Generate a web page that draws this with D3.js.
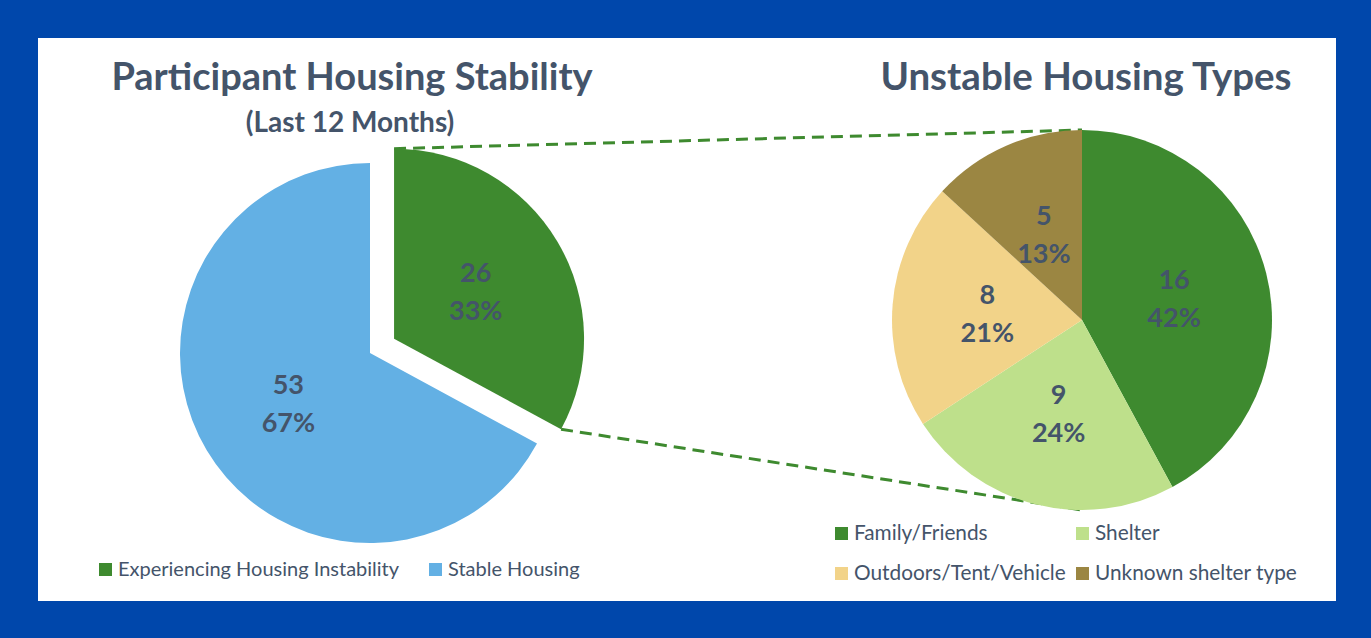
<!DOCTYPE html>
<html>
<head>
<meta charset="utf-8">
<script src="https://cdn.jsdelivr.net/npm/d3@7"></script>
<style>
  body { margin: 0; background: #0047AB; }
  svg { display: block; }
  text { font-family: Lato, "Open Sans", sans-serif; fill: #44546A; }
</style>
</head>
<body>
<svg id="chart" width="1371" height="638"></svg>
<script>
// left pie: housing stability (last 12 months)
var stabilityLabels = ["Experiencing Housing Instability", "Stable Housing"];
var stabilityValues = [26, 53];
var stabilityColors = ["#3E8A2F", "#63B0E4"];

// right pie: breakdown of the unstable slice
var typeLabels = ["Family/Friends", "Shelter", "Outdoors/Tent/Vehicle", "Unknown shelter type"];
var typeValues = [16, 9, 8, 5];
var typeColors = ["#3E8A2F", "#BEE08B", "#F2D389", "#9B8642"];

var svg = d3.select("#chart"),
    W = 1371, H = 638,
    radius = 190,
    leftC = [370, 353],
    rightC = [1082, 320],
    explode = 28;

svg.append("rect")
    .attr("x", 38).attr("y", 38)
    .attr("width", 1298).attr("height", 563)
    .attr("fill", "white");

var pie = d3.pie().sort(null).value(function(d) { return d; });
var arc = d3.arc().innerRadius(0).outerRadius(radius);
var labelArc = d3.arc().innerRadius(radius * 0.5).outerRadius(radius * 0.5);

var leftArcs = pie(stabilityValues);
var rightArcs = pie(typeValues);
var leftTotal = d3.sum(stabilityValues),
    rightTotal = d3.sum(typeValues);

// offset of the exploded slice along its bisector
function explodeOffset(d) {
    var a = (d.startAngle + d.endAngle) / 2;
    return [Math.sin(a) * explode, -Math.cos(a) * explode];
}

// dashed connector lines from exploded slice to right pie
var g0 = leftArcs[0],
    off = explodeOffset(g0);
var gx = leftC[0] + off[0], gy = leftC[1] + off[1];
var p1 = [gx + Math.sin(g0.startAngle) * radius, gy - Math.cos(g0.startAngle) * radius],
    p2 = [gx + Math.sin(g0.endAngle) * radius, gy - Math.cos(g0.endAngle) * radius];

var lines = svg.append("g")
    .attr("stroke", "#3E8A2F")
    .attr("stroke-width", 3)
    .attr("stroke-dasharray", "12,7");
lines.append("line")
    .attr("x1", p1[0]).attr("y1", p1[1])
    .attr("x2", rightC[0]).attr("y2", rightC[1] - radius);
lines.append("line")
    .attr("x1", p2[0]).attr("y1", p2[1])
    .attr("x2", rightC[0]).attr("y2", rightC[1] + radius);

function labelLines(g, d, total) {
    var c = labelArc.centroid(d);
    var t = g.append("text")
        .attr("text-anchor", "middle")
        .attr("font-weight", "bold")
        .attr("font-size", 27);
    t.append("tspan").attr("x", c[0]).attr("y", c[1] - 8).text(d.value);
    t.append("tspan").attr("x", c[0]).attr("y", c[1] + 30)
        .text(Math.round(d.value / total * 100) + "%");
}

// left pie
var left = svg.append("g").attr("transform", "translate(" + leftC[0] + "," + leftC[1] + ")");
var ls = left.selectAll("g.slice")
    .data(leftArcs)
    .enter().append("g")
    .attr("class", "slice")
    .attr("transform", function(d, i) {
        if (i !== 0) return null;
        var o = explodeOffset(d);
        return "translate(" + o[0] + "," + o[1] + ")";
    });
ls.append("path")
    .attr("d", arc)
    .attr("fill", function(d, i) { return stabilityColors[i]; });
ls.each(function(d) { labelLines(d3.select(this), d, leftTotal); });

// right pie
var right = svg.append("g").attr("transform", "translate(" + rightC[0] + "," + rightC[1] + ")");
var rs = right.selectAll("g.slice")
    .data(rightArcs)
    .enter().append("g")
    .attr("class", "slice");
rs.append("path")
    .attr("d", arc)
    .attr("fill", function(d, i) { return typeColors[i]; });
rs.each(function(d) { labelLines(d3.select(this), d, rightTotal); });

// titles
svg.append("text")
    .attr("x", 352).attr("y", 90)
    .attr("text-anchor", "middle")
    .attr("font-weight", "bold").attr("font-size", 38)
    .text("Participant Housing Stability");
svg.append("text")
    .attr("x", 350).attr("y", 132)
    .attr("text-anchor", "middle")
    .attr("font-weight", "bold").attr("font-size", 28)
    .text("(Last 12 Months)");
svg.append("text")
    .attr("x", 1086).attr("y", 90)
    .attr("text-anchor", "middle")
    .attr("font-weight", "bold").attr("font-size", 38.5)
    .text("Unstable Housing Types");

// legends
var legLeft = svg.append("g");
var legLeftX = [99, 429];
stabilityLabels.forEach(function(name, i) {
    legLeft.append("rect")
        .attr("x", legLeftX[i]).attr("y", 563)
        .attr("width", 13).attr("height", 13)
        .attr("fill", stabilityColors[i]);
    legLeft.append("text")
        .attr("x", legLeftX[i] + 19).attr("y", 576)
        .attr("font-size", 20)
        .text(name);
});

var legRight = svg.append("g");
var legRightX = [835, 1076], legRightY = [527, 567];
typeLabels.forEach(function(name, i) {
    var x = legRightX[i % 2], y = legRightY[Math.floor(i / 2)];
    legRight.append("rect")
        .attr("x", x).attr("y", y)
        .attr("width", 13).attr("height", 13)
        .attr("fill", typeColors[i]);
    legRight.append("text")
        .attr("x", x + 19).attr("y", y + 13)
        .attr("font-size", 20.8)
        .text(name);
});
</script>
</body>
</html>
